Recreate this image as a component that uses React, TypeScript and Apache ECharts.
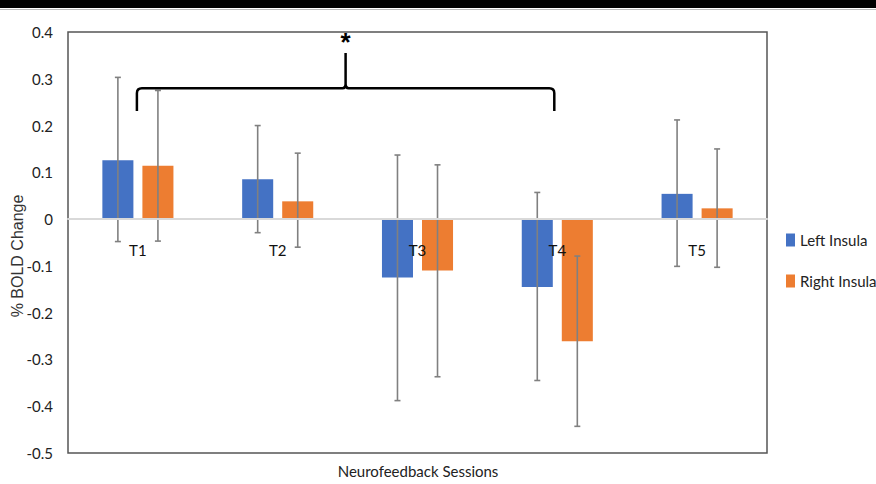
import React, { useEffect, useRef } from "react";
import * as echarts from "echarts";

const categories = ["T1", "T2", "T3", "T4", "T5"];
const leftInsula = [0.126, 0.085, -0.125, -0.145, 0.054];
const rightInsula = [0.114, 0.038, -0.11, -0.261, 0.023];
const leftErrLow = [-0.048, -0.029, -0.388, -0.345, -0.101];
const leftErrHigh = [0.303, 0.2, 0.137, 0.057, 0.212];
const rightErrLow = [-0.047, -0.06, -0.337, -0.443, -0.103];
const rightErrHigh = [0.275, 0.141, 0.116, -0.079, 0.15];
const yMin = -0.5;
const yMax = 0.4;
const yInterval = 0.1;
// significance bracket from T1 to T4
const bracketFrom = 0;
const bracketTo = 3;
const bracketLevel = 0.28;
const bracketDrop = 0.049;
const bracketPeak = 0.355;
const starLevel = 0.387;

const FONT = "Lato, 'Liberation Sans', sans-serif";
const BAR_W = 0.222;
const BAR_GAP = 0.29;

export default function App() {
  const ref = useRef<HTMLDivElement>(null);
  useEffect(() => {
    const chart = echarts.init(ref.current!, null, { renderer: "svg" });
    const errSeries = (name: string, low: number[], high: number[], side: number) => ({
      type: "custom",
      name: name + " err",
      z: 5,
      silent: true,
      encode: { x: 0, y: [1, 2] },
      data: low.map((l, i) => [i, l, high[i]]),
      renderItem: (params: any, api: any) => {
        const idx = api.value(0);
        const lo = api.value(1);
        const hi = api.value(2);
        const band = api.size([1, 0])[0];
        const bw = band * BAR_W;
        const gap = bw * BAR_GAP;
        const off = (side * (bw + gap)) / 2;
        const pHi = api.coord([idx, hi]);
        const pLo = api.coord([idx, lo]);
        const x = pHi[0] + off;
        const cap = 3;
        const st = { stroke: "#808080", lineWidth: 1.6 };
        return {
          type: "group",
          children: [
            { type: "line", shape: { x1: x, y1: pHi[1], x2: x, y2: pLo[1] }, style: st },
            { type: "line", shape: { x1: x - cap, y1: pHi[1], x2: x + cap, y2: pHi[1] }, style: st },
            { type: "line", shape: { x1: x - cap, y1: pLo[1], x2: x + cap, y2: pLo[1] }, style: st },
          ],
        };
      },
    });
    chart.setOption({
      animation: false,
      grid: {
        left: 68,
        top: 32,
        right: 109,
        bottom: 31,
        outerBoundsMode: "none",
        containLabel: false,
        show: true,
        borderColor: "#555",
        borderWidth: 1.5,
        backgroundColor: "#fff",
      },
      legend: {
        orient: "vertical",
        left: 786,
        top: 231,
        padding: 0,
        itemWidth: 9,
        itemHeight: 13,
        itemGap: 23,
        icon: "rect",
        data: ["Left Insula", "Right Insula"],
        textStyle: { fontFamily: FONT, fontSize: 15, color: "#222", lineHeight: 18 },
      },
      xAxis: {
        type: "category",
        data: categories,
        z: 10,
        axisLine: { onZero: true, lineStyle: { color: "#d9d9d9", width: 2 } },
        axisTick: { show: false },
        axisLabel: { margin: -211, fontFamily: FONT, fontSize: 15, color: "#111" },
      },
      yAxis: {
        type: "value",
        min: yMin,
        max: yMax,
        interval: yInterval,
        axisLine: { show: false },
        axisTick: { show: false },
        splitLine: { show: false },
        axisLabel: {
          margin: 15,
          fontFamily: FONT,
          fontSize: 15,
          color: "#222",
          formatter: (v: number) => String(Number(v.toFixed(1))),
        },
      },
      series: [
        {
          type: "bar",
          name: "Left Insula",
          data: leftInsula,
          barWidth: BAR_W * 100 + "%",
          barGap: BAR_GAP * 100 + "%",
          itemStyle: { color: "#4472C4" },
        },
        {
          type: "bar",
          name: "Right Insula",
          data: rightInsula,
          barWidth: BAR_W * 100 + "%",
          barGap: BAR_GAP * 100 + "%",
          itemStyle: { color: "#ED7D31" },
        },
        errSeries("Left Insula", leftErrLow, leftErrHigh, -1),
        errSeries("Right Insula", rightErrLow, rightErrHigh, 1),
        {
          type: "custom",
          name: "bracket",
          z: 6,
          silent: true,
          data: [[0]],
          renderItem: (params: any, api: any) => {
            const a = api.coord([bracketFrom, bracketLevel]);
            const b = api.coord([bracketTo, bracketLevel]);
            const x1 = a[0] - 1;
            const x2 = b[0] - 3;
            const yH = a[1];
            const yE = api.coord([bracketFrom, bracketLevel - bracketDrop])[1];
            const yP = api.coord([bracketFrom, bracketPeak])[1];
            const yS = api.coord([bracketFrom, starLevel])[1];
            const xm = (x1 + x2) / 2;
            const r = 5;
            const d =
              `M${x1},${yE} L${x1},${yH + r} Q${x1},${yH} ${x1 + r},${yH} ` +
              `L${xm - 3},${yH} Q${xm},${yH} ${xm},${yH - 4} L${xm},${yP} ` +
              `M${xm},${yH - 4} Q${xm},${yH} ${xm + 3},${yH} ` +
              `L${x2 - r},${yH} Q${x2},${yH} ${x2},${yH + r} L${x2},${yE}`;
            return {
              type: "group",
              children: [
                {
                  type: "path",
                  shape: { pathData: d },
                  style: { fill: "none", stroke: "#000", lineWidth: 2.5 },
                },
                {
                  type: "text",
                  x: xm,
                  y: yS + 4,
                  style: {
                    text: "*",
                    font: "bold 26px 'Liberation Sans', sans-serif",
                    fill: "#000",
                    align: "center",
                    verticalAlign: "middle",
                  },
                },
              ],
            };
          },
        },
      ],
      graphic: [
        { type: "rect", shape: { x: 0, y: 0, width: 876, height: 8 }, style: { fill: "#000" } },
        { type: "line", shape: { x1: 0, y1: 9.5, x2: 876, y2: 9.5 }, style: { stroke: "#bbb", lineWidth: 1 } },
        {
          type: "text",
          x: 17,
          y: 256,
          rotation: Math.PI / 2,
          style: {
            text: "% BOLD Change",
            font: "16px 'Liberation Sans', sans-serif",
            fill: "#333",
            align: "center",
            verticalAlign: "middle",
          },
        },
        {
          type: "text",
          x: 418,
          y: 471,
          style: {
            text: "Neurofeedback Sessions",
            font: `15px ${FONT}`,
            fill: "#222",
            align: "center",
            verticalAlign: "middle",
          },
        },
      ],
    });
    return () => chart.dispose();
  }, []);
  return (
    <div
      ref={ref}
      style={{ position: "fixed", left: 0, top: 0, width: 876, height: 484, background: "#fff" }}
    />
  );
}
